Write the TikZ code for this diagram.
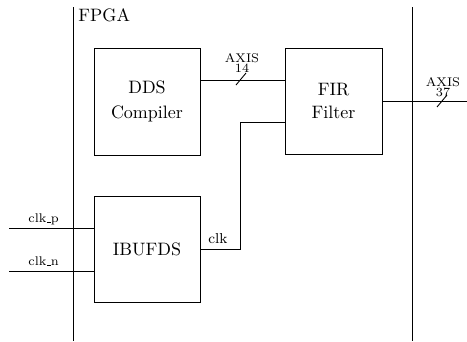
\documentclass[tikz,border=0pt]{standalone}
\usetikzlibrary{calc}
\newcommand{\usc}{\kern.06em\vbox{\hrule width.3em}}
\begin{document}
\begin{tikzpicture}[x=0.556pt,y=-0.556pt,line width=0.5pt,
	blk/.style={draw,align=center,inner sep=0pt,minimum width=58.9pt,minimum height=58.9pt},
	bus/.style={font=\scriptsize,align=center,inner sep=0pt,anchor=south}]
	\useasboundingbox (0,0) rectangle (467,341);
	% FPGA border
	\draw (73,7) -- (73,341);
	\draw (412,7) -- (412,341);
	\node[anchor=base west,inner sep=0pt] (fpga) at (78,21) {FPGA};
	% blocks
	\node[blk,minimum height=59.5pt] (dds) at (147,101.5) {DDS\\[2pt]Compiler};
	\node[blk,minimum width=53.9pt] (fir) at (333.5,101) {FIR\\[1pt]Filter};
	\node[blk] (ibufds) at (147,249) {IBUFDS};
	% AXIS bus dds -> fir
	\coordinate (axisy) at (0,80);
	\draw (dds.east |- axisy) -- (fir.west |- axisy);
	\draw (241,79) ++(-5,6) -- ++(10,-12);
	\node[bus] (axisa) at (242,73) {AXIS\\[-2.4pt]14};
	% AXIS bus out of fir
	\coordinate (firout) at (467,101);
	\draw (fir.east) -- (firout);
	\draw (442,101) ++(-5,6) -- ++(10,-12);
	\node[bus] (axisb) at (443,97) {AXIS\\[-2.4pt]37};
	% clock inputs
	\coordinate (clkp) at (9,228);
	\coordinate (clkn) at (9,271);
	\draw (clkp) -- (ibufds.west |- clkp) node[pos=.41,anchor=base,yshift=2.8pt,font=\scriptsize] (clkplbl) {clk\usc p};
	\draw (clkn) -- (ibufds.west |- clkn) node[pos=.41,anchor=base,yshift=2.8pt,font=\scriptsize] (clknlbl) {clk\usc n};
	% clock to fir
	\coordinate (clkturn) at (240,122);
	\draw (ibufds.east) -| (clkturn) -- (fir.west |- clkturn);
	\node[anchor=base,font=\footnotesize] (clklbl) at (218,243) {clk};
\end{tikzpicture}
\end{document}
